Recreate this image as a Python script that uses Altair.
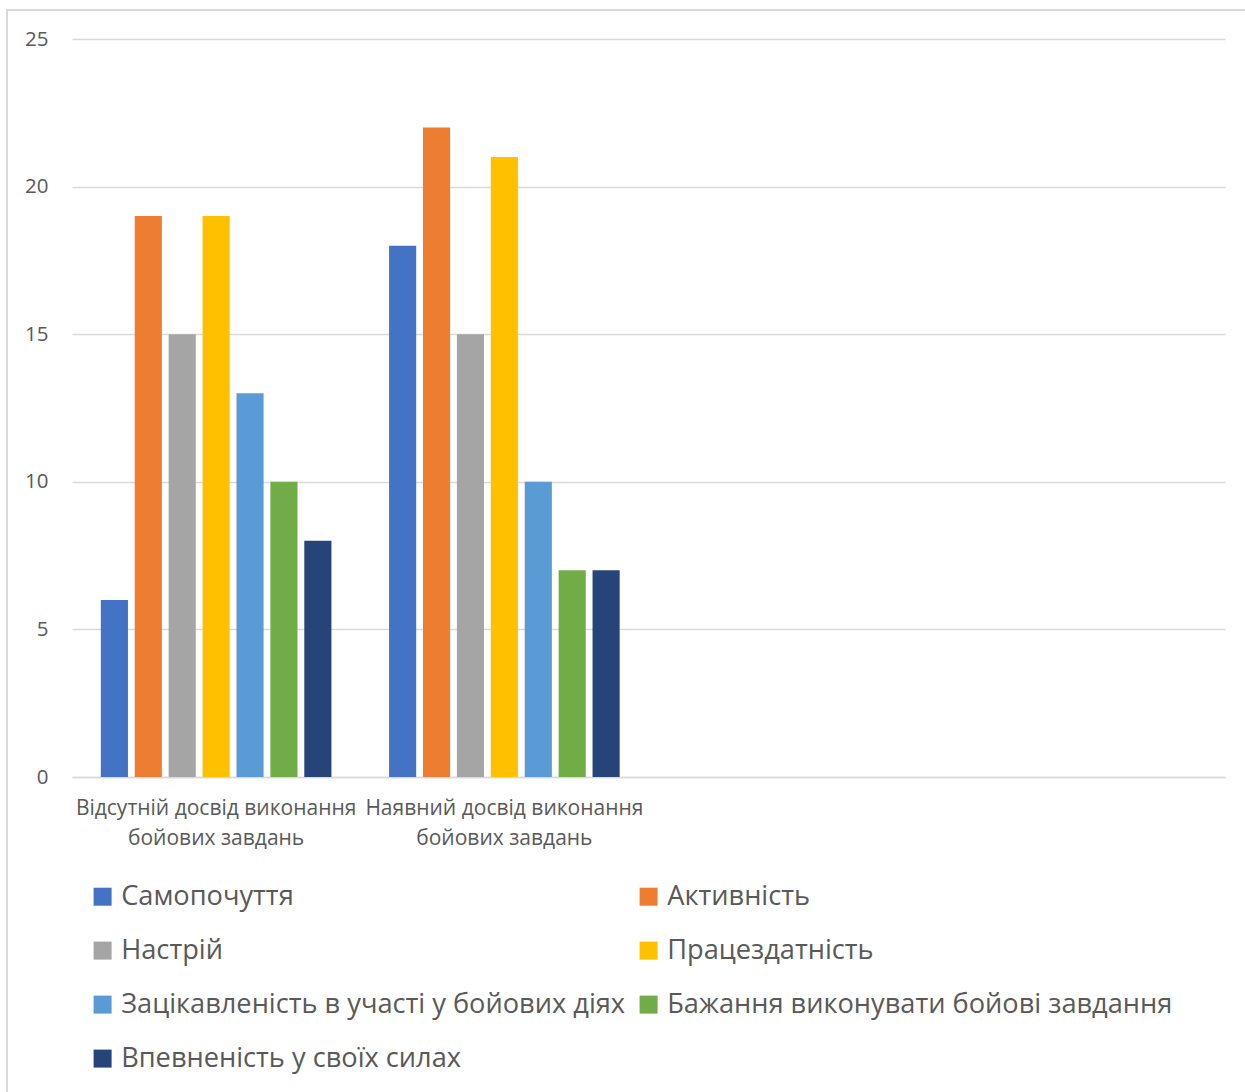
import altair as alt
import pandas as pd

# Category labels on the x axis
categories = [
    "Відсутній досвід виконання бойових завдань",
    "Наявний досвід виконання бойових завдань",
]
# Extra empty slots on the category axis
spare_slots = [" ", "  "]

# Series (legend order)
series = [
    "Самопочуття",
    "Активність",
    "Настрій",
    "Працездатність",
    "Зацікавленість в участі у бойових діях",
    "Бажання виконувати бойові завдання",
    "Впевненість у своїх силах",
]
no_experience = [6, 19, 15, 19, 13, 10, 8]
with_experience = [18, 22, 15, 21, 10, 7, 7]

colors = ["#4472C4", "#ED7D31", "#A5A5A5", "#FFC000", "#5B9BD5", "#70AD47", "#264478"]
y_ticks = [0, 5, 10, 15, 20, 25]

rows = []
for cat, vals in zip(categories, [no_experience, with_experience]):
    for s, v in zip(series, vals):
        rows.append({"category": cat, "series": s, "value": v})
df = pd.DataFrame(rows)

FONT = "Open Sans"
TEXT = "#595959"
GRID = "#d9d9d9"

bars = alt.Chart(df).mark_bar().encode(
    x=alt.X(
        "category:N",
        scale=alt.Scale(domain=categories + spare_slots, paddingInner=0, paddingOuter=0),
        sort=None,
        axis=alt.Axis(
            title=None,
            labelAngle=0,
            labelFontSize=21,
            labelColor=TEXT,
            labelFont=FONT,
            labelLimit=0,
            labelPadding=20,
            labelLineHeight=30,
            labelExpr="split(replace(datum.label, ' бойових', '|бойових'), '|')",
            ticks=False,
            domainColor=GRID,
            domainWidth=1.5,
        ),
    ),
    xOffset=alt.XOffset(
        "series:N",
        sort=series,
        scale=alt.Scale(domain=series, paddingInner=0.2, paddingOuter=0.85),
    ),
    y=alt.Y(
        "value:Q",
        scale=alt.Scale(domain=[0, 25], nice=False),
        axis=alt.Axis(
            title=None,
            values=y_ticks,
            labelFontSize=20.5,
            labelColor=TEXT,
            labelFont=FONT,
            labelPadding=24,
            ticks=False,
            domain=False,
            gridColor=GRID,
            gridWidth=1.5,
        ),
    ),
    color=alt.Color(
        "series:N",
        sort=series,
        scale=alt.Scale(domain=series, range=colors),
        legend=alt.Legend(
            title=None,
            orient="none",
            legendX=17,
            legendY=844,
            direction="horizontal",
            columns=2,
            symbolType="square",
            symbolSize=324,
            symbolStrokeWidth=0,
            labelFontSize=27.2,
            labelFont=FONT,
            labelColor=TEXT,
            labelOffset=5,
            labelLimit=0,
            rowPadding=26,
            columnPadding=9,
        ),
    ),
)

frame = alt.Chart(alt.Data(values=[{}])).mark_rect(
    fill=None, stroke=GRID, strokeWidth=2
).encode(
    x=alt.value(-65), x2=alt.value(1200), y=alt.value(-29), y2=alt.value(1100)
)

chart = alt.layer(frame, bars).properties(
    width=1153,
    height=738,
    autosize=alt.AutoSizeParams(type="none"),
    padding={"left": 72, "top": 39, "right": 20, "bottom": 315},
    background="white",
).configure_view(stroke=None)

chart.save("out.html", embed_options={"renderer": "svg", "actions": False})
